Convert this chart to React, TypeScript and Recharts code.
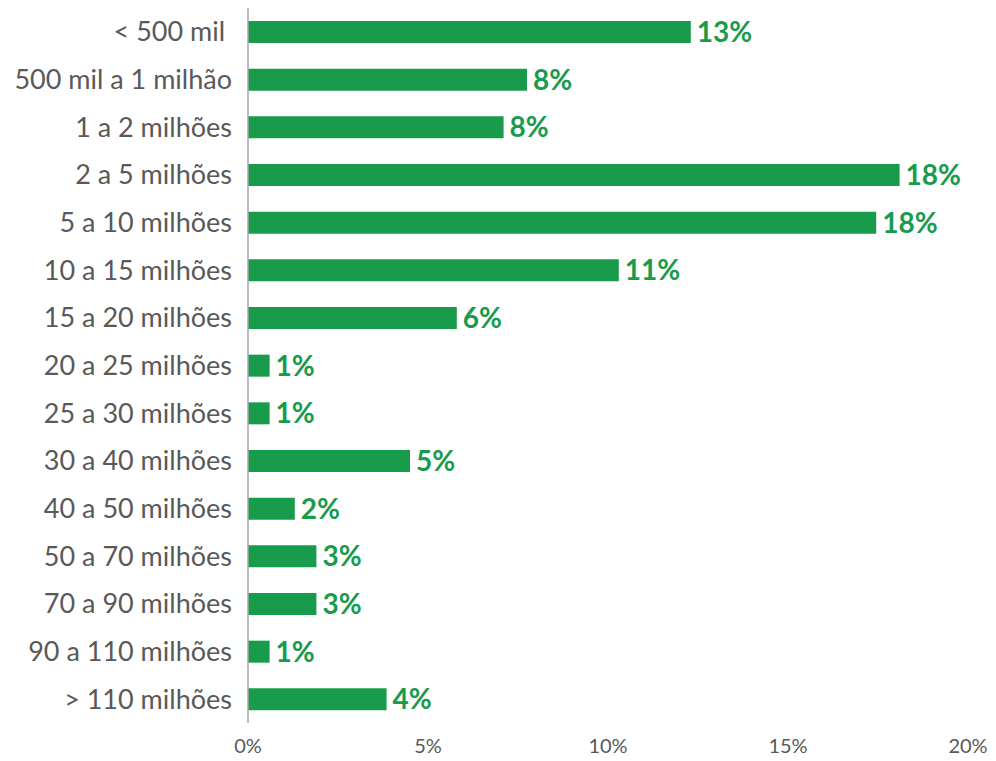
import { Bar, BarChart, LabelList, XAxis, YAxis } from "recharts"

const faixas = [
  "< 500 mil\u00a0",
  "500 mil a 1 milhão",
  "1 a 2 milhões",
  "2 a 5 milhões",
  "5 a 10 milhões",
  "10 a 15 milhões",
  "15 a 20 milhões",
  "20 a 25 milhões",
  "25 a 30 milhões",
  "30 a 40 milhões",
  "40 a 50 milhões",
  "50 a 70 milhões",
  "70 a 90 milhões",
  "90 a 110 milhões",
  "> 110 milhões",
]

// bar lengths (%)
const valores = [12.3, 7.75, 7.1, 18.1, 17.45, 10.3, 5.8, 0.6, 0.6, 4.5, 1.3, 1.9, 1.9, 0.6, 3.85]

// printed labels
const rotulos = ["13%", "8%", "8%", "18%", "18%", "11%", "6%", "1%", "1%", "5%", "2%", "3%", "3%", "1%", "4%"]

const ticksX = [0, 5, 10, 15, 20]

const verde = "#189c4c"
const cinza = "#595959"

export default function App() {
  const data = faixas.map((faixa, i) => ({
    faixa,
    valor: valores[i],
    rotulo: rotulos[i],
  }))

  return (
    <div style={{ position: "absolute", left: 0, top: 0, fontFamily: "Lato, sans-serif" }}>
      <BarChart
        width={996}
        height={761}
        data={data}
        layout="vertical"
        margin={{ top: 8, right: 28, bottom: 0, left: 0 }}
        barSize={22}
      >
        <XAxis
          type="number"
          domain={[0, 20]}
          ticks={ticksX}
          tickFormatter={(v) => `${v}%`}
          axisLine={false}
          tickLine={false}
          tickSize={0}
          tickMargin={16}
          height={38}
          tick={{ fill: cinza, fontSize: 20 }}
        />
        <YAxis
          type="category"
          dataKey="faixa"
          width={248}
          axisLine={{ stroke: "#a6a6a6", strokeWidth: 1.5 }}
          tickLine={false}
          tickSize={0}
          tickMargin={16}
          interval={0}
          tick={{ fill: cinza, fontSize: 27 }}
        />
        <Bar dataKey="valor" fill={verde} isAnimationActive={false}>
          <LabelList
            dataKey="rotulo"
            position="right"
            offset={6}
            style={{ fill: verde, fontSize: 28, fontWeight: 700 }}
          />
        </Bar>
      </BarChart>
    </div>
  )
}
